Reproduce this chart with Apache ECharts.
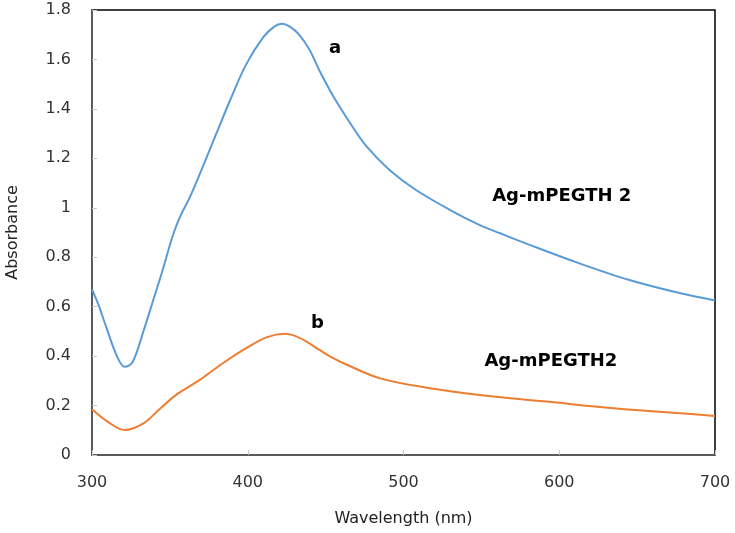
<!DOCTYPE html>
<html>
<head>
<meta charset="utf-8">
<script src="https://cdn.jsdelivr.net/npm/echarts@6/dist/echarts.min.js"></script>
<style>html,body{margin:0;padding:0;background:#fff}#c{width:735px;height:533px}</style>
</head>
<body>
<div id="c"></div>
<script>
// Wavelength (nm) and absorbance
var wavelengthA = [300,304,309,316,321,326,333,340,345,352,357,363,374,389,399,410,417,422,427,433,440,446,455,466,476,491,508,530,549,562,581,613,645,678,700];
var absorbanceA = [0.67,0.61,0.52,0.40,0.357,0.375,0.50,0.64,0.74,0.89,0.97,1.045,1.21,1.44,1.58,1.69,1.733,1.744,1.733,1.70,1.635,1.555,1.45,1.34,1.25,1.153,1.072,0.991,0.930,0.897,0.850,0.775,0.708,0.654,0.625];
var wavelengthB = [300,310,321,333,344,354,369,384,399,412,424,431,438,446,453,464,485,517,549,592,635,678,700];
var absorbanceB = [0.185,0.135,0.101,0.128,0.189,0.243,0.303,0.371,0.432,0.476,0.490,0.480,0.458,0.425,0.398,0.364,0.310,0.270,0.243,0.216,0.189,0.169,0.158];
var xTicks = [300,400,500,600,700];
var yTicks = [0,0.2,0.4,0.6,0.8,1,1.2,1.4,1.6,1.8];
var annotText = ['a','Ag-mPEGTH 2','b','Ag-mPEGTH2'];
var annotX = [456,601.6,444.7,594.6];
var annotY = [1.646,1.045,0.533,0.377];

function pairs(xs, ys){ return xs.map(function(x,i){return [x, ys[i]];}); }
function marks(idx){
  return idx.map(function(i){
    return {coord:[annotX[i], annotY[i]], symbolSize:0,
      label:{show:true, position:'inside', formatter:annotText[i], color:'#000',
        fontFamily:'DejaVu Sans', fontWeight:'bold', fontSize:18}};
  });
}
var font = 'DejaVu Sans';
var chart = echarts.init(document.getElementById('c'));
chart.setOption({
  animation:false,
  backgroundColor:'#fff',
  grid:{left:92, right:20, top:10, bottom:78, show:true, borderColor:'#000', borderWidth:1.5,
    containLabel:false, outerBoundsMode:'none'},
  xAxis:{type:'value', min:300, max:700, interval:100,
    name:'Wavelength (nm)', nameLocation:'middle', nameGap:56,
    nameTextStyle:{fontFamily:font, fontSize:16, color:'#222'},
    axisLine:{show:true, onZero:false, lineStyle:{color:'#5a5a5a', width:2}},
    axisTick:{show:true, inside:true, length:5, lineStyle:{color:'#c8c8c8'}},
    axisLabel:{fontFamily:font, fontSize:16, color:'#333', margin:20,
      formatter:function(v){return xTicks.indexOf(v)>=0 ? String(v) : '';}},
    splitLine:{show:false}},
  yAxis:{type:'value', min:0, max:1.8, interval:0.2,
    name:'Absorbance', nameLocation:'middle', nameGap:71, nameRotate:90,
    nameTextStyle:{fontFamily:font, fontSize:16, color:'#222'},
    axisLine:{show:true, onZero:false, lineStyle:{color:'#5a5a5a', width:2}},
    axisTick:{show:true, inside:true, length:5, lineStyle:{color:'#c8c8c8'}},
    axisLabel:{fontFamily:font, fontSize:16, color:'#333', margin:21,
      formatter:function(v){
        var r = Math.round(v*10)/10;
        for (var i=0;i<yTicks.length;i++){ if (Math.abs(yTicks[i]-r)<1e-9) return String(yTicks[i]); }
        return '';
      }},
    splitLine:{show:false}},
  series:[
    {type:'line', data:pairs(wavelengthA, absorbanceA), smooth:0.35, showSymbol:false,
      lineStyle:{color:'#5B9BD5', width:2}, itemStyle:{color:'#5B9BD5'},
      markPoint:{symbol:'circle', data:marks([0,1])}},
    {type:'line', data:pairs(wavelengthB, absorbanceB), smooth:0.35, showSymbol:false,
      lineStyle:{color:'#ED7D31', width:2}, itemStyle:{color:'#ED7D31'},
      markPoint:{symbol:'circle', data:marks([2,3])}}
  ]
});
</script>
</body>
</html>
